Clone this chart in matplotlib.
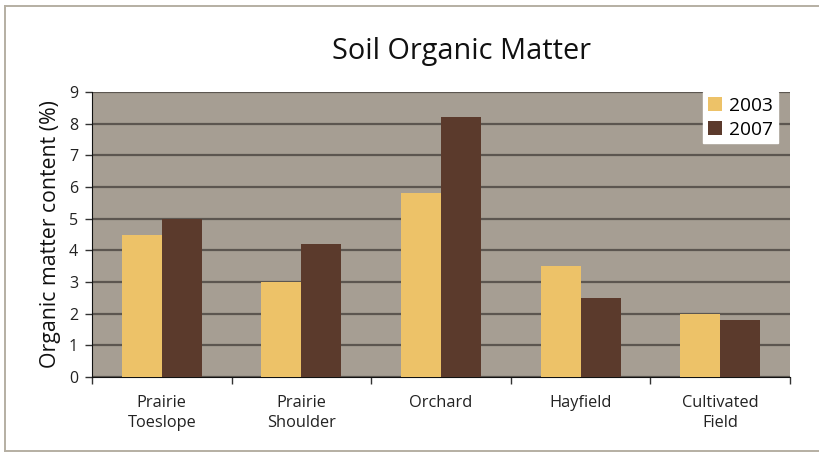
import matplotlib
matplotlib.use("Agg")
import matplotlib.pyplot as plt
import numpy as np

plt.rcParams['font.family'] = ['Open Sans', 'DejaVu Sans']

categories = ["Prairie\nToeslope", "Prairie\nShoulder", "Orchard", "Hayfield", "Cultivated\nField"]
series_names = ["2003", "2007"]
values_2003 = [4.5, 3.0, 5.8, 3.5, 2.0]
values_2007 = [5.0, 4.2, 8.2, 2.5, 1.8]
y_ticks = list(range(0, 10))

col_2003 = "#EDC268"
col_2007 = "#5B3A2C"
plot_bg = "#A69E93"
grid_col = "#5C5650"
frame_col = "#B5AFA3"

fig = plt.figure(figsize=(8.19, 4.53), dpi=100)
ax = fig.add_axes([92/819, 1-377/453, (790-92)/819, (377-92)/453])
ax.set_facecolor(plot_bg)

x = np.arange(len(categories))
w = 0.287
ax.bar(x - w/2, values_2003, w, color=col_2003, label=series_names[0], zorder=3)
ax.bar(x + w/2, values_2007, w, color=col_2007, label=series_names[1], zorder=3)

ax.set_xlim(-0.5, len(categories) - 0.5)
ax.set_ylim(0, 9)
ax.set_yticks(y_ticks)
ax.set_yticklabels([str(t) for t in y_ticks], fontsize=11.5, color="#222222")
ax.yaxis.grid(True, color=grid_col, linewidth=1.6, zorder=1)
ax.set_axisbelow(True)

ax.set_xticks(np.arange(len(categories) + 1) - 0.5)
ax.set_xticklabels([])
ax.set_xticks(x, minor=True)
ax.set_xticklabels(categories, minor=True, fontsize=11.8, color="#222222", linespacing=1.3)
ax.tick_params(axis="x", which="minor", length=0, pad=13)
ax.tick_params(axis="x", which="major", length=5, width=1, color="#333333")
ax.tick_params(axis="y", length=5, width=1, color="#333333", pad=5)

for s in ["top", "right"]:
    ax.spines[s].set_visible(False)
ax.spines["left"].set_color("#111111")
ax.spines["bottom"].set_color("#111111")

ax.set_ylabel("Organic matter content (%)", fontsize=15.3, color="#111111", labelpad=6)

fig.text(461/819, 1-52/453, "Soil Organic Matter", ha="center", va="center", fontsize=20.8, color="#111111")

leg = ax.legend(loc="upper right", bbox_to_anchor=(1 - 12/698, 1.0), frameon=True, fancybox=False,
                fontsize=13.8, handlelength=0.75, handleheight=0.75, handletextpad=0.35,
                borderpad=0.25, labelspacing=0.3, borderaxespad=0)
leg.get_frame().set_facecolor("white")
leg.get_frame().set_edgecolor("white")
leg.get_frame().set_alpha(1)

# outer frame lines around the figure
fig.add_artist(plt.Line2D([4.5/819, 4.5/819], [1-6/453, 1-451/453], color=frame_col, linewidth=1.4, transform=fig.transFigure))
fig.add_artist(plt.Line2D([4.5/819, 1], [1-6/453, 1-6/453], color=frame_col, linewidth=1.4, transform=fig.transFigure))
fig.add_artist(plt.Line2D([4.5/819, 1], [1-451/453, 1-451/453], color=frame_col, linewidth=1.4, transform=fig.transFigure))

fig.savefig("out.png", dpi=100)
